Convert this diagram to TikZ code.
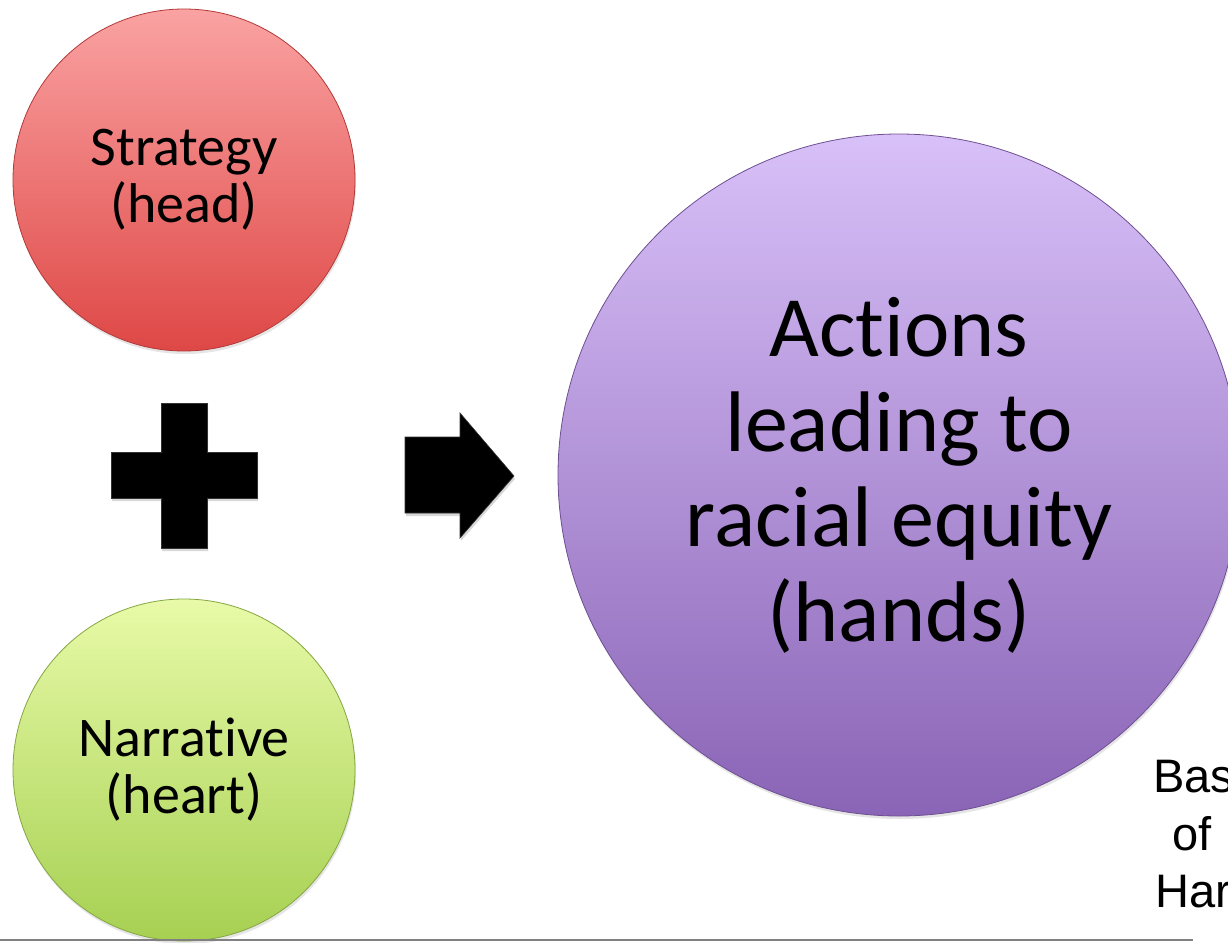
\documentclass[tikz,border=0pt]{standalone}
\usepackage{fontspec}
\setmainfont{Carlito}[Ligatures=NoCommon,RawFeature={-calt}]
\newfontfamily\arialfont{Liberation Sans}
\usepackage{tikz}
\usetikzlibrary{calc,shadows}

\definecolor{redtop}{RGB}{250,162,162}
\definecolor{redbot}{RGB}{222,72,70}
\definecolor{greentop}{RGB}{232,250,168}
\definecolor{greenbot}{RGB}{166,208,82}
\definecolor{purptop}{RGB}{216,192,248}
\definecolor{purpbot}{RGB}{138,100,182}

\begin{document}
\begin{tikzpicture}[x=1pt,y=-1pt,
  ball/.style={circle,inner sep=0pt,align=center,line width=0.8pt,
               drop shadow={opacity=0.2,shadow xshift=1pt,shadow yshift=-3pt}},
  smallball/.style={ball,minimum size=342pt,font=\fontsize{56}{57}\selectfont},
  bigball/.style={ball,minimum size=682pt,font=\fontsize{86}{95}\selectfont},
  glyph/.style={fill=black,draw=black!80,line width=0.6pt,
               drop shadow={opacity=0.3,shadow xshift=1pt,shadow yshift=-3pt}},
  note/.style={font=\arialfont\fontsize{47}{57}\selectfont,anchor=base west,inner sep=0pt}]
                 \useasboundingbox[fill=white] (0,0) rectangle (1228,942);
                 \node[smallball,top color=redtop,bottom color=redbot,draw=redbot!80!black](strategy)at(184,180){Strategy\\(head)};
                 \node[smallball,top color=greentop,bottom color=greenbot,draw=greenbot!80!black](narrative)at(184,770){Narrat\kern0pt ive\\(heart)};
                 \node[bigball,top color=purptop,bottom color=purpbot,draw=purpbot!80!black](actions)at(899,475){Act\kern0pt ions\\leading to\\racial equity\\(hands)};
                 % plus sign
                 \draw[glyph] (161,403) -- (207,403) -- (207,452) -- (257,452) -- (257,498) -- (207,498)
                              -- (207,548) -- (161,548) -- (161,498) -- (111,498) -- (111,452) -- (161,452) -- cycle;
                 % arrow
                 \draw[glyph] (405,437) -- (460,437) -- (460,413) -- (514,476) -- (460,538) -- (460,513) -- (405,513) -- cycle;
                 \node[note](bas)at(1153,792){Bas};
                 \node[note](of)at(1172,850){of};
                 \node[note](har)at(1155,907){Har};
                 \draw[gray,line width=2.5pt] (0,940) -- (1193,940);
               \end{tikzpicture}
\end{document}
